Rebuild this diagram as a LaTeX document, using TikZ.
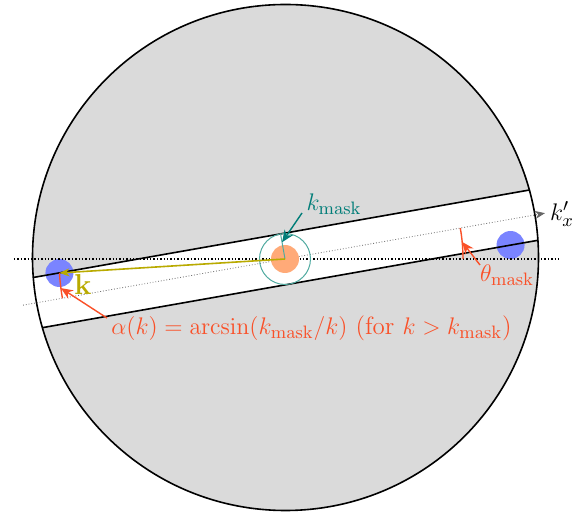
\documentclass[tikz,border=0pt]{standalone}
\usetikzlibrary{arrows.meta}
\definecolor{diskgray}{RGB}{218,218,218}
\definecolor{dotblue}{RGB}{122,132,255}
\definecolor{dotorange}{RGB}{255,170,120}
\definecolor{myred}{RGB}{250,80,40}
\definecolor{myteal}{RGB}{0,125,120}
\definecolor{lightteal}{RGB}{80,170,160}
\definecolor{myolive}{RGB}{185,170,0}
\tikzset{
  edge/.style={line width=0.8pt,black},
  dotaxis/.style={densely dotted,line width=0.4pt},
  redarr/.style={myred,line width=0.7pt,-{Stealth[length=6pt,width=5pt]}},
  redlbl/.style={myred,inner sep=0pt},
}
\begin{document}
\begin{tikzpicture}[x=0.5pt,y=0.5pt,font=\fontsize{12.5}{15}\selectfont]
\useasboundingbox (-285,-254) rectangle (294,259);
\coordinate (O) at (0,0);
\coordinate (C) at (0.5,1.5);
% disk
\fill[diskgray] (C) circle (253);
\begin{scope}
  \clip (C) circle (253);
  \fill[white,rotate=10] (-300,-25.5) rectangle (300,25.5);
  \fill[dotblue] (183.55:226) circle (14);
  \fill[dotblue] (3.55:226) circle (14);
  \draw[edge,rotate=10] (-300,25.5) -- (300,25.5);
  \draw[edge,rotate=10] (-300,-25.5) -- (300,-25.5);
\end{scope}
\draw[line width=0.8pt] (C) circle (253);
\coordinate (kL) at (183.55:226);
\coordinate (kR) at (3.55:226);
% axes
\coordinate (hL) at (-271,0);
\coordinate (hR) at (275,0);
\draw[dotaxis,line width=0.7pt] (hL) -- (hR);
\coordinate (aL) at (190:266);
\coordinate (aR) at (10:264);
\draw[dotaxis,gray!80!black,-{Stealth[length=5pt,width=4pt]}] (aL) -- (aR);
\node[inner sep=0pt] (kx) at (277,45) {$k'_x$};
% orange and teal
\fill[dotorange] (O) circle (14);
\draw[lightteal,line width=0.5pt] (O) circle (25.5);
\coordinate (rt) at (100:25.5);
\draw[lightteal,line width=0.5pt] (O) -- (rt);
\coordinate (rm) at (100:17);
\node[myteal,inner sep=0pt] (km) at (49,55) {$k_{\mathrm{mask}}$};
\coordinate (kms) at (17,46);
\draw[myteal,line width=0.7pt,-{Stealth[length=6pt,width=5pt]}] (kms) -- (rm);
% k vector
\draw[myolive,line width=0.8pt,-{Stealth[length=5pt,width=4pt]}] (O) -- (kL);
\node[myolive,inner sep=0pt] (kk) at (-202,-26) {\fontsize{14}{16}\selectfont$\mathbf{k}$};
% alpha arc
\draw[myred,line width=0.7pt] (kL) arc[start angle=183.55,end angle=190,radius=226];
\coordinate (am) at (187.4:226);
\node[redlbl] (al) at (26.5,-69) {$\alpha(k)=\arcsin(k_{\mathrm{mask}}/k)$ (for $k>k_{\mathrm{mask}}$)};
\coordinate (als) at (-178,-59);
\draw[redarr] (als) -- (am);
% theta arc
\draw[myred,line width=0.7pt] (0:178) arc[start angle=0,end angle=10,radius=178];
\coordinate (tm) at (5.5:178);
\node[redlbl] (th) at (222,-16) {$\theta_{\mathrm{mask}}$};
\coordinate (ths) at (195,-6);
\draw[redarr] (ths) -- (tm);
\end{tikzpicture}
\end{document}
